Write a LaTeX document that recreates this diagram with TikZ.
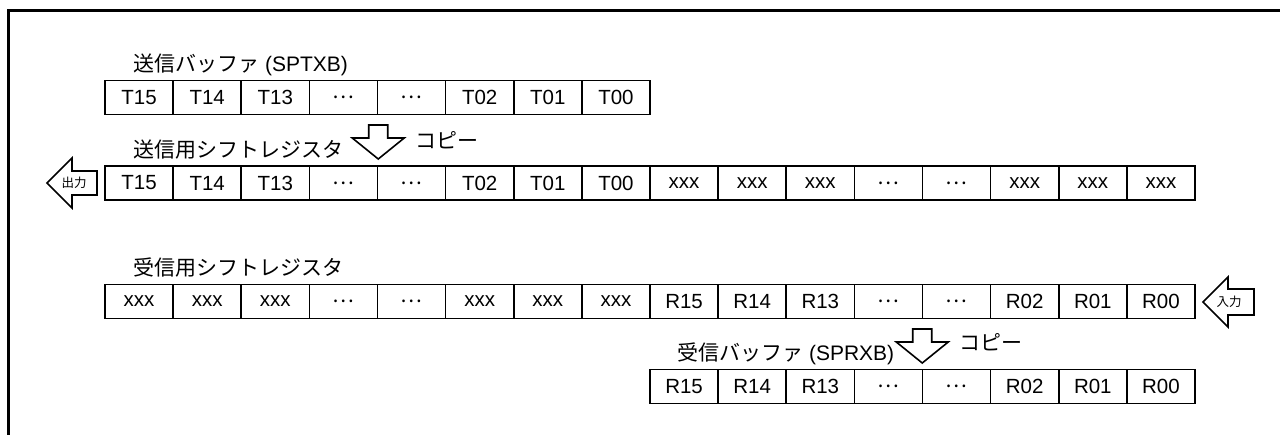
\documentclass[tikz,border=0pt]{standalone}
\usepackage{fontspec}
\setmainfont{Liberation Sans}
\newfontfamily\jp{Noto Sans CJK JP}
\newcommand{\dd}{{\jp …}}
\begin{document}
\begin{tikzpicture}[x=1pt,y=-1pt,
  cell/.style={draw, line width=1.6pt, minimum width=68.125pt, minimum height=34pt, inner sep=0pt, font=\fontsize{20.5}{24}\selectfont},
  lbl/.style={inner sep=0pt, anchor=west, font=\fontsize{21}{24}\selectfont},
  small/.style={inner sep=0pt, font=\jp\fontsize{12.5}{14}\selectfont},
  arr/.style={draw, line width=1.6pt, fill=white, line join=miter}]
\useasboundingbox (0,0) rectangle (1280,435);
% frame
\draw[line width=3pt] (8,436) -- (8,11) -- (1282,11);
% transmit buffer
\foreach \t [count=\i from 0] in {T15,T14,T13,\dd,\dd,T02,T01,T00}
  \node[cell] (tb\i) at ({105+68.125*(\i+0.5)},97.5) {\t};
% transmit shift register
\foreach \t [count=\i from 0] in {T15,T14,T13,\dd,\dd,T02,T01,T00,xxx,xxx,xxx,\dd,\dd,xxx,xxx,xxx}
  \node[cell] (ts\i) at ({105+68.125*(\i+0.5)},183) {\t};
% receive shift register
\foreach \t [count=\i from 0] in {xxx,xxx,xxx,\dd,\dd,xxx,xxx,xxx,R15,R14,R13,\dd,\dd,R02,R01,R00}
  \node[cell] (rs\i) at ({105+68.125*(\i+0.5)},301.5) {\t};
% receive buffer
\foreach \t [count=\i from 8] in {R15,R14,R13,\dd,\dd,R02,R01,R00}
  \node[cell] (rb\i) at ({105+68.125*(\i+0.5)},386.5) {\t};
% labels
\node[lbl] (l1) at (133,65) {{\jp 送信バッファ} (SPTXB)};
\node[lbl] (l2) at (133,150) {\jp 送信用シフトレジスタ};
\node[lbl] (l3) at (133,268) {\jp 受信用シフトレジスタ};
\node[lbl] (l4) at (677,354) {{\jp 受信バッファ} (SPRXB)};
\node[lbl] (c1) at (415,140) {\jp コピー};
\node[lbl] (c2) at (959,342) {\jp コピー};
% copy arrows
\foreach \cx/\T in {378.25/125, 922.25/329}
  \draw[arr] (\cx-9.5,\T) -- (\cx+9.5,\T) -- (\cx+9.5,\T+13) -- (\cx+26,\T+13) -- (\cx,\T+34) -- (\cx-26,\T+13) -- (\cx-9.5,\T+13) -- cycle;
% output arrow
\draw[arr] (47,183) -- (72,158) -- (72,171) -- (97,171) -- (97,195) -- (72,195) -- (72,208) -- cycle;
\node[small] (out) at (74,183) {出力};
% input arrow
\draw[arr] (1203,302) -- (1228,277) -- (1228,289) -- (1254,289) -- (1254,315) -- (1228,315) -- (1228,327) -- cycle;
\node[small] (in) at (1229,302) {入力};
\end{tikzpicture}
\end{document}
